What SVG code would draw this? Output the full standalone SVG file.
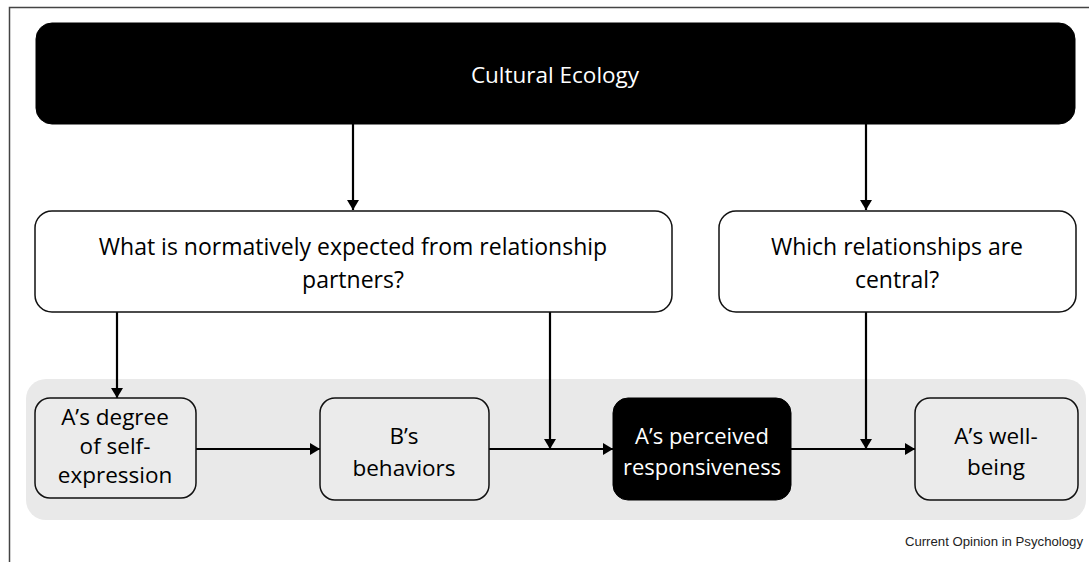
<svg xmlns="http://www.w3.org/2000/svg" width="1089" height="562" viewBox="0 0 1089 562">
<style>
.t{font-family:"Open Sans","Liberation Sans",sans-serif;text-anchor:middle;fill:#000}
.w{fill:#fff}
.box{fill:#fff;stroke:#111;stroke-width:1.5}
.gbox{fill:#ebebeb;stroke:#111;stroke-width:1.5}
.blk{fill:#000;stroke:#000}
.c{stroke:#000;stroke-width:2.2;fill:none}
</style>
<defs>
<marker id="ah2" viewBox="0 0 10 12" refX="10" refY="6" markerWidth="10" markerHeight="12" orient="auto" markerUnits="userSpaceOnUse">
<path d="M0,0 L10,6 L0,12 z" fill="#000"/>
</marker>
</defs>
<rect width="1089" height="562" fill="#fff"/>
<path d="M9.5,562 V7.5 H1089" fill="none" stroke="#444" stroke-width="1.5"/>
<rect x="26" y="379" width="1060" height="141" rx="20" fill="#e9e9e9"/>

<g id="connectors">
<line class="c" x1="353" y1="124" x2="353" y2="210" marker-end="url(#ah2)"/>
<line class="c" x1="866" y1="124" x2="866" y2="210" marker-end="url(#ah2)"/>
<line class="c" x1="117" y1="312" x2="117" y2="398" marker-end="url(#ah2)"/>
<line class="c" x1="550" y1="312" x2="550" y2="449" marker-end="url(#ah2)"/>
<line class="c" x1="866" y1="312" x2="866" y2="449" marker-end="url(#ah2)"/>
<line class="c" x1="196" y1="449" x2="320" y2="449" marker-end="url(#ah2)"/>
<line class="c" x1="489" y1="449" x2="613" y2="449" marker-end="url(#ah2)"/>
<line class="c" x1="791" y1="449" x2="915" y2="449" marker-end="url(#ah2)"/>
</g>

<g id="cultural-ecology">
<rect class="blk" x="36" y="23" width="1039" height="101" rx="16"/>
<text class="t w" x="555" y="83" font-size="22.5">Cultural Ecology</text>
</g>
<g id="normative">
<rect class="box" x="35" y="211" width="637" height="101" rx="17"/>
<text class="t" x="353" y="255" font-size="23">What is normatively expected from relationship</text>
<text class="t" x="353" y="288" font-size="23">partners?</text>
</g>
<g id="central">
<rect class="box" x="719" y="211" width="357" height="101" rx="17"/>
<text class="t" x="897" y="255" font-size="23">Which relationships are</text>
<text class="t" x="897" y="288" font-size="23">central?</text>
</g>
<g id="self-expression">
<rect class="gbox" x="35" y="398" width="161" height="100" rx="15"/>
<text class="t" x="115" y="425" font-size="22.5">A’s degree</text>
<text class="t" x="115" y="454" font-size="22.5">of self-</text>
<text class="t" x="115" y="483" font-size="22.5">expression</text>
</g>
<g id="b-behaviors">
<rect class="gbox" x="320" y="398" width="169" height="102" rx="15"/>
<text class="t" x="404" y="444" font-size="22.5">B’s</text>
<text class="t" x="404" y="476" font-size="22.5">behaviors</text>
</g>
<g id="responsiveness">
<rect class="blk" x="613" y="398" width="178" height="102" rx="15"/>
<text class="t w" x="702" y="444" font-size="22">A’s perceived</text>
<text class="t w" x="702" y="475" font-size="22">responsiveness</text>
</g>
<g id="well-being">
<rect class="gbox" x="915" y="398" width="163" height="102" rx="15"/>
<text class="t" x="996" y="444" font-size="22.5">A’s well-</text>
<text class="t" x="996" y="475" font-size="22.5">being</text>
</g>
<text x="1083" y="546" font-family="Liberation Sans, Arial, sans-serif" font-size="13.2" text-anchor="end" fill="#222">Current Opinion in Psychology</text>
</svg>
